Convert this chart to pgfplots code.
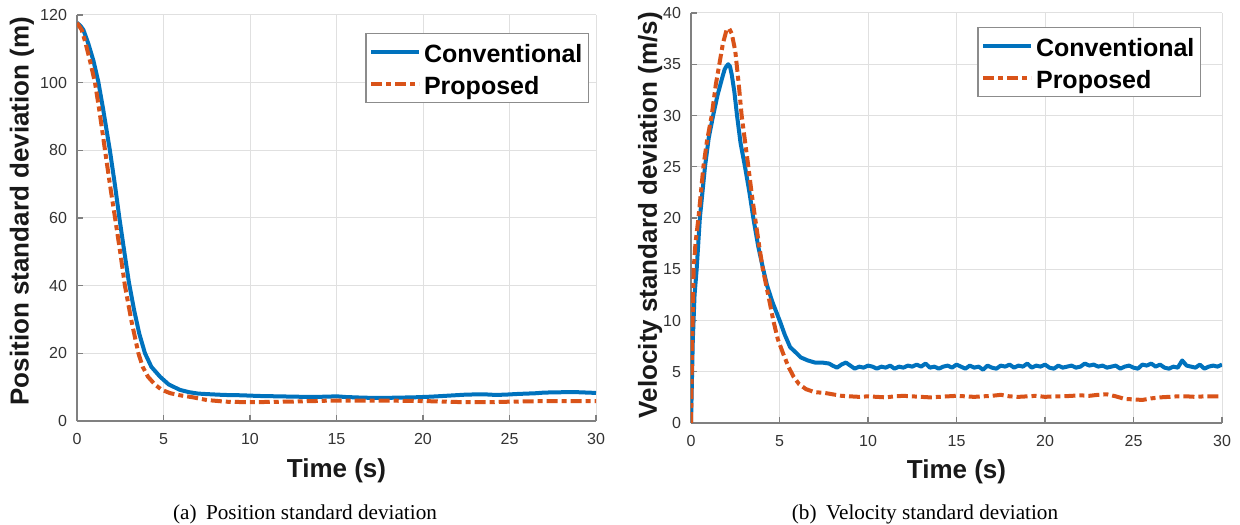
\documentclass[border=0pt]{standalone}
\usepackage{pgfplots}
\pgfplotsset{compat=1.18}
\usepackage{fontspec}
\setmainfont{Liberation Serif}
\setsansfont{Liberation Sans}
\definecolor{mblue}{rgb}{0,0.447,0.741}
\definecolor{morange}{rgb}{0.85,0.325,0.098}
\pgfplotsset{
  mstyle/.style={
    scale only axis,
    axis lines=left,
    axis line style={-, draw=black!50, line width=0.6pt},
    xmin=0, xmax=30, xtick={0,5,...,30},
    grid=major,
    grid style={draw=black!12, line width=0.5pt},
    tick align=inside,
    major tick length=3pt,
    tick style={draw=black!50, line width=0.6pt},
    /pgf/number format/assume math mode=true,
    ticklabel style={font=\sffamily\fontsize{8}{9}\selectfont, text=black!80},
    xticklabel style={yshift=-2.5pt},
    yticklabel style={xshift=-1.5pt},
    label style={font=\sffamily\bfseries\fontsize{13}{15}\selectfont, text=black!90},
    legend cell align=left,
    legend style={font=\sffamily\bfseries\fontsize{12.5}{14}\selectfont,
      draw=black!45, line width=0.6pt, fill=white,
      inner xsep=1.5pt, inner ysep=1.25pt,
      nodes={inner sep=1.5pt, text height=11.75pt, text depth=1.25pt}},
    legend image code/.code={\draw[#1] (0pt,0pt) -- (24pt,0pt);},
  },
  conv/.style={mblue, line width=2pt, line join=round},
  prop/.style={morange, line width=2pt, dash pattern=on 5.5pt off 2pt on 2.5pt off 2pt},
}
\pgfplotstableread{
t v
0 117.7
0.2 116.8
0.37 115.6
0.65 111.6
0.95 106.5
1.23 100.3
1.5 92.5
1.9 80
2.2 69.5
2.45 60
2.75 49.5
3.0 41
3.3 32.8
3.6 25.8
3.93 20
4.3 16
4.8 13.1
5.3 10.8
5.95 9.2
6.5 8.5
7.0 8.1
7.7 7.9
8.5 7.7
9.5 7.6
10.5 7.4
11.5 7.3
12.5 7.2
13.5 7.1
14.5 7.2
15.0 7.3
15.5 7.1
16.5 6.9
17.5 6.8
18.5 6.9
19.5 7.0
20.5 7.2
21.5 7.5
22.5 7.8
23.5 7.9
24.2 7.7
24.8 7.8
25.5 8.0
26.5 8.2
27.0 8.4
28.0 8.5
29.0 8.5
30.0 8.3
}\posconv
\pgfplotstableread{
t v
0 117.7
0.27 115.6
0.5 111.6
0.75 106.5
1.04 100
1.3 91.5
1.62 80
1.9 70
2.2 60
2.5 49.8
2.77 40
3.15 29.5
3.55 20
3.8 16
4.1 13.1
4.5 10.8
4.9 9.2
5.4 8.2
5.95 7.6
6.7 7.0
7.5 6.2
8.6 5.7
9.5 5.6
10.6 5.6
12.0 5.7
13.0 5.8
14.45 6.0
16.0 6.0
18.3 6.0
20.0 5.9
22.1 5.6
24.0 5.6
25.9 5.8
27.5 5.9
28.9 5.9
30.0 5.9
}\posprop
\pgfplotstableread{
t v
0 0
0.1 8
0.2 12.5
0.32 15
0.5 20
0.79 25
1.0 27.8
1.25 30
1.5 32
1.75 33.6
1.9 34.5
2.0 34.8
2.1 35.0
2.2 34.8
2.3 34.0
2.45 32.3
2.6 30.0
2.8 27.3
3.05 25
3.3 22.5
3.52 20
3.8 17.2
4.08 15
4.3 13.4
4.6 11.8
5.03 9.9
5.3 8.6
5.6 7.4
5.97 6.8
6.2 6.4
6.6 6.1
7.0 5.9
7.4 5.9
7.8 5.8
8.0 5.6
8.25 5.4
8.5 5.7
8.75 5.9
9.0 5.6
9.25 5.3
9.5 5.5
9.75 5.4
10.0 5.6
10.25 5.5
10.5 5.3
10.75 5.5
11.0 5.4
11.25 5.6
11.5 5.3
11.75 5.5
12.0 5.4
12.25 5.6
12.5 5.5
12.75 5.7
13.0 5.5
13.25 5.8
13.5 5.4
13.75 5.5
14.0 5.3
14.25 5.5
14.5 5.6
14.75 5.4
15.0 5.7
15.25 5.5
15.5 5.3
15.75 5.6
16.0 5.4
16.25 5.5
16.5 5.2
16.75 5.6
17.0 5.4
17.25 5.3
17.5 5.6
17.75 5.5
18.0 5.7
18.25 5.4
18.5 5.6
18.75 5.5
19.0 5.8
19.25 5.4
19.5 5.6
19.75 5.5
20.0 5.7
20.25 5.4
20.5 5.3
20.75 5.6
21.0 5.4
21.25 5.5
21.5 5.6
21.75 5.4
22.0 5.5
22.25 5.8
22.5 5.6
22.75 5.7
23.0 5.5
23.25 5.6
23.5 5.4
23.75 5.5
24.0 5.6
24.25 5.3
24.5 5.5
24.75 5.6
25.0 5.4
25.25 5.3
25.5 5.7
25.75 5.6
26.0 5.8
26.25 5.5
26.5 5.7
26.75 5.4
27.0 5.3
27.25 5.5
27.5 5.4
27.75 6.1
28.0 5.6
28.25 5.5
28.5 5.4
28.75 5.7
29.0 5.3
29.25 5.5
29.5 5.6
29.75 5.5
30.0 5.7
}\velconv
\pgfplotstableread{
t v
0 0
0.05 6
0.1 11
0.15 15
0.25 17.5
0.42 20
0.7 25
0.9 27.5
1.17 30
1.4 33
1.6 35
1.8 37
2.0 38.3
2.15 38.5
2.3 38.0
2.5 36.3
2.7 33
2.86 30
3.05 27.5
3.24 25
3.42 22.5
3.62 20
3.85 17.3
4.06 15
4.3 13
4.65 10
4.9 8.2
5.2 6.8
5.5 5.5
5.8 4.5
6.1 3.8
6.5 3.3
7.0 3.0
7.5 2.95
8.0 2.8
8.5 2.65
9.0 2.6
9.5 2.55
10.0 2.6
10.5 2.55
11.0 2.5
11.5 2.6
12.0 2.65
12.5 2.6
13.0 2.55
13.5 2.5
14.0 2.55
14.5 2.6
15.0 2.65
15.5 2.6
16.0 2.55
16.5 2.6
17.0 2.65
17.5 2.75
18.0 2.6
18.5 2.55
19.0 2.6
19.5 2.65
20.0 2.55
20.5 2.6
21.0 2.6
21.5 2.65
22.0 2.7
22.5 2.65
23.0 2.75
23.5 2.8
24.0 2.6
24.5 2.35
25.0 2.3
25.5 2.25
26.0 2.4
26.5 2.5
27.0 2.55
27.5 2.6
28.0 2.6
28.5 2.55
29.0 2.6
29.5 2.6
30.0 2.6
}\velprop
\begin{document}
\begin{tikzpicture}
\useasboundingbox (0,0) rectangle (620pt,262pt);
\begin{axis}[mstyle,
  at={(38.5pt,51.5pt)}, anchor=south west,
  width=259.5pt, height=203pt,
  ymin=0, ymax=120, ytick={0,20,...,120},
  xlabel={Time (s)}, ylabel={Position standard deviation (m)},
  xlabel style={at={(axis description cs:0.5,-0.123)}, anchor=center},
  ylabel style={at={(axis description cs:-0.106,0.517)}, anchor=center},
  legend style={at={(axis description cs:1,1)}, anchor=north east, xshift=-3.5pt, yshift=-9pt},
]
\addplot[conv] table[x=t,y=v] {\posconv};
\addlegendentry{Conventional}
\addplot[prop] table[x=t,y=v] {\posprop};
\addlegendentry{Proposed}
\end{axis}
\begin{axis}[mstyle,
  at={(345.5pt,50.5pt)}, anchor=south west,
  width=265.5pt, height=205pt,
  ymin=0, ymax=40, ytick={0,5,...,40},
  xlabel={Time (s)}, ylabel={Velocity standard deviation (m/s)},
  xlabel style={at={(axis description cs:0.5,-0.12)}, anchor=center},
  ylabel style={at={(axis description cs:-0.077,0.507)}, anchor=center},
  legend style={at={(axis description cs:1,1)}, anchor=north east, xshift=-10.5pt, yshift=-7pt},
]
\addplot[conv] table[x=t,y=v] {\velconv};
\addlegendentry{Conventional}
\addplot[prop] table[x=t,y=v] {\velprop};
\addlegendentry{Proposed}
\end{axis}
\node[font=\rmfamily\fontsize{10.6}{12}\selectfont, anchor=center] at (152.5pt,5pt) {(a)\hspace{0.45em}Position standard deviation};
\node[font=\rmfamily\fontsize{10.6}{12}\selectfont, anchor=center] at (462.5pt,5pt) {(b)\hspace{0.45em}Velocity standard deviation};
\end{tikzpicture}
\end{document}
